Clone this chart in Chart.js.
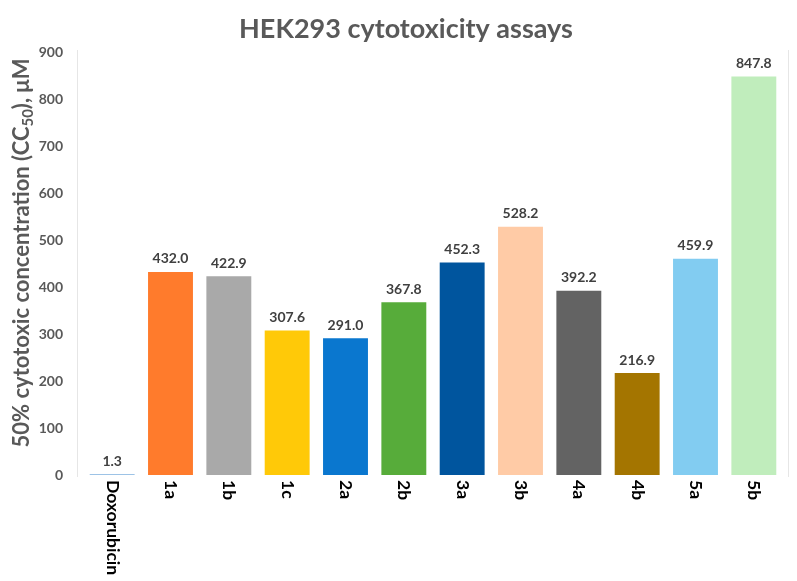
<!DOCTYPE html>
<html>
<head>
<meta charset="utf-8">
<script src="https://cdn.jsdelivr.net/npm/chart.js@4/dist/chart.umd.min.js"></script>
<style>
html,body{margin:0;padding:0;background:#fff;}
#wrap{width:797px;height:581px;position:relative;}
</style>
</head>
<body>
<div id="wrap"><canvas id="c" width="797" height="581"></canvas></div>
<script>
const categories = ["Doxorubicin","1a","1b","1c","2a","2b","3a","3b","4a","4b","5a","5b"];
const cc50Values = [1.3,432.0,422.9,307.6,291.0,367.8,452.3,528.2,392.2,216.9,459.9,847.8];
const barColors = ["#9DC3E6","#FF7B2C","#A9A9A9","#FFC908","#0A77CF","#57AC3A","#00559E","#FFCBA6","#636363","#A47500","#82CCF1","#C0EDBC"];
const yTicks = [0,100,200,300,400,500,600,700,800,900];
const titleText = "HEK293 cytotoxicity assays";
const yTitleMain = "50% cytotoxic concentration (CC";
const yTitleSub = "50";
const yTitleEnd = "), μM";

const FONT = "Lato, 'Open Sans', sans-serif";

const customDraw = {
  id: 'customDraw',
  afterDraw(chart) {
    const ctx = chart.ctx;
    const ca = chart.chartArea;
    const xs = chart.scales.x;
    const ys = chart.scales.y;
    ctx.save();
    // faint frame lines
    ctx.strokeStyle = '#E6E6E6';
    ctx.lineWidth = 1;
    ctx.beginPath();
    ctx.moveTo(77.5, ca.top - 2); ctx.lineTo(77.5, ca.bottom + 2);
    ctx.moveTo(788.5, ca.top - 2); ctx.lineTo(788.5, ca.bottom + 2);
    ctx.stroke();

    // title
    ctx.fillStyle = '#595959';
    ctx.font = "bold 27px " + FONT;
    ctx.textAlign = 'center';
    ctx.textBaseline = 'middle';
    ctx.fillText(titleText, 406, 29);

    // data labels
    ctx.font = "bold 14px " + FONT;
    ctx.fillStyle = '#404040';
    ctx.textBaseline = 'middle';
    const meta = chart.getDatasetMeta(0);
    meta.data.forEach((bar, i) => {
      const v = cc50Values[i];
      ctx.fillText(v.toFixed(1), bar.x, ys.getPixelForValue(v) - 13);
    });

    // x labels rotated clockwise
    ctx.fillStyle = '#000000';
    ctx.font = "bold 17.5px " + FONT;
    categories.forEach((lab, i) => {
      const x = xs.getPixelForValue(i);
      ctx.save();
      ctx.translate(x, ca.bottom + 5);
      ctx.rotate(Math.PI / 2);
      ctx.textAlign = 'left';
      ctx.textBaseline = 'middle';
      ctx.fillText(lab, 0, 0);
      ctx.restore();
    });

    // y axis title with subscript
    ctx.save();
    ctx.fillStyle = '#595959';
    const big = "bold 22px " + FONT;
    const small = "bold 15px " + FONT;
    ctx.font = big;
    const w1 = ctx.measureText(yTitleMain).width;
    const w3 = ctx.measureText(yTitleEnd).width;
    ctx.font = small;
    const w2 = ctx.measureText(yTitleSub).width;
    const total = w1 + w2 + w3;
    const cy = 253;
    ctx.translate(22, cy);
    ctx.rotate(-Math.PI / 2);
    ctx.textAlign = 'left';
    ctx.textBaseline = 'middle';
    let sx = -total / 2;
    ctx.font = big;
    ctx.fillText(yTitleMain, sx, 0);
    sx += w1;
    ctx.font = small;
    ctx.fillText(yTitleSub, sx, 6);
    sx += w2;
    ctx.font = big;
    ctx.fillText(yTitleEnd, sx, 0);
    ctx.restore();

    ctx.restore();
  }
};

new Chart(document.getElementById('c'), {
  type: 'bar',
  data: {
    labels: categories,
    datasets: [{
      data: cc50Values,
      backgroundColor: barColors,
      borderWidth: 0,
      barPercentage: 0.77,
      categoryPercentage: 1.0,
      minBarLength: 1
    }]
  },
  options: {
    responsive: false,
    animation: false,
    devicePixelRatio: 1,
    layout: { padding: { top: 52, bottom: 106, right: 14, left: 0 } },
    plugins: { legend: { display: false }, tooltip: { enabled: false }, title: { display: false } },
    scales: {
      x: {
        display: false,
        offset: true,
        grid: { display: false }
      },
      y: {
        min: 0, max: 900,
        afterFit(scale) { scale.width = 83; },
        afterBuildTicks(scale) { scale.ticks = yTicks.map(v => ({ value: v })); },
        border: { display: false },
        grid: { display: false, drawTicks: false },
        ticks: {
          padding: 20,
          color: '#595959',
          font: { family: FONT, size: 14, weight: 'bold' }
        }
      }
    }
  },
  plugins: [customDraw]
});
</script>
</body>
</html>
